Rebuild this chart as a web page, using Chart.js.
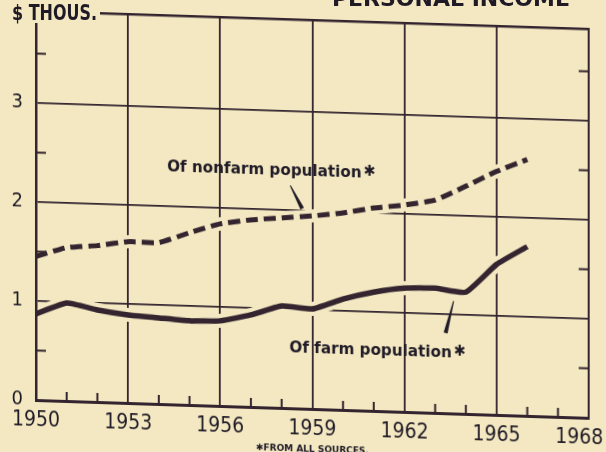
<!DOCTYPE html>
<html>
<head>
<meta charset="utf-8">
<script src="https://cdn.jsdelivr.net/npm/chart.js@4.4.1/dist/chart.umd.min.js"></script>
<style>
  html, body { margin:0; padding:0; width:606px; height:452px; overflow:hidden; background:#f3e8c1; }
  #paper { position:absolute; left:0; top:0; width:606px; height:452px; transform: skewY(1.85deg); transform-origin: 36px 0; }
  #mask { position:absolute; left:0; top:0; width:100px; height:23px; background:#f3e8c1; }
  #unit { position:absolute; left:12px; top:3px; font: bold 21px "DejaVu Sans", sans-serif; color:#1f1a26; line-height:21px; white-space:nowrap; transform: scaleX(0.76); transform-origin: 0 0; }
  #title { position:absolute; right:36px; top:-12px; font: bold 22px "DejaVu Sans", sans-serif; color:#1f1a26; line-height:22px; white-space:nowrap; }
</style>
</head>
<body>
<div id="paper"><canvas id="c" width="606" height="452"></canvas></div>
<div id="mask"></div>
<div id="unit">$ THOUS.</div>
<div id="title">PERSONAL INCOME</div>
<script>
// ---- data ----
const years = [1950,1951,1952,1953,1954,1955,1956,1957,1958,1959,1960,1961,1962,1963,1964,1965,1966];
const nonfarmIncome = [1.45,1.55,1.58,1.63,1.63,1.74,1.84,1.89,1.92,1.95,1.99,2.05,2.09,2.15,2.30,2.46,2.59];
const farmIncome    = [0.87,0.99,0.93,0.89,0.87,0.85,0.86,0.93,1.03,1.01,1.12,1.20,1.25,1.26,1.23,1.52,1.71];
const yearTicks = [1950,1953,1956,1959,1962,1965,1968];
const incomeTicks = [0,1,2,3];
const nonfarmLabel = "Of nonfarm population";
const farmLabel = "Of farm population";
const footnote = "FROM ALL SOURCES.";

const INK = '#33242f';
const TXT = '#1f1a26';
const BG = '#f3e8c1';
const tickFont = '"DejaVu Sans Condensed", "DejaVu Sans", sans-serif';

const pts = arr => years.map((yr, i) => ({x: yr, y: arr[i]}));
const noPad = s => { s.paddingLeft = 0; s.paddingRight = 0; s.paddingTop = 0; s.paddingBottom = 0; };

const decorations = {
  id: 'decorations',
  afterDraw(chart) {
    const {ctx, chartArea: a, scales: {x, y}} = chart;
    ctx.save();
    ctx.strokeStyle = INK;
    ctx.lineWidth = 2;
    ctx.lineCap = 'butt';
    // minor year ticks (inward)
    x.ticks.forEach(t => {
      if (!yearTicks.includes(t.value)) {
        const px = x.getPixelForValue(t.value);
        ctx.beginPath(); ctx.moveTo(px, a.bottom); ctx.lineTo(px, a.bottom - 9); ctx.stroke();
      }
    });
    // half-unit ticks on both frame sides
    y.ticks.forEach(t => {
      const v = t.value;
      if (Math.abs(v * 2 - Math.round(v * 2)) < 1e-9 && Math.abs(v - Math.round(v)) > 1e-9) {
        const py = y.getPixelForValue(v);
        ctx.beginPath(); ctx.moveTo(a.left, py); ctx.lineTo(a.left + 10, py); ctx.stroke();
        ctx.beginPath(); ctx.moveTo(a.right, py); ctx.lineTo(a.right - 10, py); ctx.stroke();
      }
    });
    // annotation labels
    ctx.fillStyle = TXT;
    ctx.textBaseline = 'alphabetic';
    ctx.textAlign = 'left';
    const label = (txt, xv, yv) => {
      const px = x.getPixelForValue(xv), py = y.getPixelForValue(yv);
      ctx.save();
      ctx.translate(px, py);
      ctx.scale(0.95, 1);
      ctx.font = 'bold 16px "DejaVu Sans", sans-serif';
      ctx.fillText(txt, 0, 0);
      const w = ctx.measureText(txt).width;
      ctx.font = 'bold 15px "DejaVu Sans", sans-serif';
      ctx.fillText('\u2731', w + 2, -2);
      ctx.restore();
    };
    label(nonfarmLabel, 1954.27, 2.35);
    label(farmLabel, 1958.25, 0.57);
    // leader wedges
    const wedge = (x1, y1, x2, y2, w1, w2) => {
      const p1x = x.getPixelForValue(x1), p1y = y.getPixelForValue(y1);
      const p2x = x.getPixelForValue(x2), p2y = y.getPixelForValue(y2);
      const dx = p2x - p1x, dy = p2y - p1y, L = Math.hypot(dx, dy);
      const nx = -dy / L, ny = dx / L;
      ctx.beginPath();
      ctx.moveTo(p1x + nx * w1 / 2, p1y + ny * w1 / 2);
      ctx.lineTo(p2x + nx * w2 / 2, p2y + ny * w2 / 2);
      ctx.lineTo(p2x - nx * w2 / 2, p2y - ny * w2 / 2);
      ctx.lineTo(p1x - nx * w1 / 2, p1y - ny * w1 / 2);
      ctx.closePath();
      ctx.fill();
    };
    wedge(1958.28, 2.25, 1958.67, 2.02, 1, 4);
    wedge(1963.6, 1.135, 1963.34, 0.81, 1, 4);
    // footnote
    ctx.font = 'bold 9px "DejaVu Sans", sans-serif';
    ctx.textAlign = 'left';
    const fw = ctx.measureText('\u2731' + footnote).width;
    const fx = (a.left + a.right) / 2 - fw / 2;
    ctx.fillText('\u2731' + footnote, fx, a.bottom + 43);
    ctx.restore();
  }
};

const lineCommon = { pointRadius: 0, tension: 0.15, clip: 0, fill: false, borderCapStyle: 'butt', borderJoinStyle: 'round' };

new Chart(document.getElementById('c'), {
  type: 'line',
  data: {
    datasets: [
      Object.assign({ label: 'nonfarm halo', data: pts(nonfarmIncome), borderColor: BG, borderWidth: 13, order: 3 }, lineCommon),
      Object.assign({ label: 'farm halo', data: pts(farmIncome), borderColor: BG, borderWidth: 14, order: 3 }, lineCommon),
      Object.assign({ label: nonfarmLabel, data: pts(nonfarmIncome), borderColor: INK, borderWidth: 5, borderDash: [12, 6], order: 1 }, lineCommon),
      Object.assign({ label: farmLabel, data: pts(farmIncome), borderColor: INK, borderWidth: 5.5, order: 1 }, lineCommon)
    ]
  },
  options: {
    responsive: false,
    animation: false,
    devicePixelRatio: 1,
    layout: { padding: 0, autoPadding: false },
    plugins: { legend: { display: false }, tooltip: { enabled: false }, title: { display: false } },
    scales: {
      x: {
        type: 'linear', position: 'bottom', min: 1950, max: 1968,
        afterFit: s => { s.height = 52; noPad(s); },
        ticks: {
          stepSize: 1, autoSkip: false, maxRotation: 0, minRotation: 0, padding: 8,
          color: TXT, font: { family: tickFont, size: 21 },
          callback: v => yearTicks.includes(v) ? (v === 1968 ? String(v) + '\u2002\u2002' : String(v)) : ''
        },
        grid: {
          drawTicks: false, lineWidth: 1.8,
          color: c => (c.tick && yearTicks.includes(c.tick.value) && c.tick.value !== 1950 && c.tick.value !== 1968) ? INK : 'rgba(0,0,0,0)'
        },
        border: { color: INK, width: 3, z: 1 }
      },
      x2: {
        type: 'linear', position: 'top', min: 1950, max: 1968,
        afterFit: s => { s.height = 11; noPad(s); },
        ticks: { display: false }, grid: { display: false, drawTicks: false },
        border: { color: INK, width: 2.5, z: 1 }
      },
      y: {
        type: 'linear', position: 'left', min: 0, max: 3.93,
        afterFit: s => { s.width = 36; noPad(s); },
        ticks: {
          stepSize: 0.5, autoSkip: false, padding: 13,
          color: TXT, font: { family: tickFont, size: 20 },
          callback: v => incomeTicks.includes(v) ? String(v) : ''
        },
        grid: {
          drawTicks: false, lineWidth: 1.8,
          color: c => (c.tick && [1, 2, 3].includes(c.tick.value)) ? INK : 'rgba(0,0,0,0)'
        },
        border: { color: INK, width: 2.5, z: 1 }
      },
      y2: {
        type: 'linear', position: 'right', min: 0, max: 3.93,
        afterFit: s => { s.width = 17; noPad(s); },
        ticks: { display: false }, grid: { display: false, drawTicks: false },
        border: { color: INK, width: 2, z: 1 }
      }
    }
  },
  plugins: [decorations]
});
</script>
</body>
</html>
